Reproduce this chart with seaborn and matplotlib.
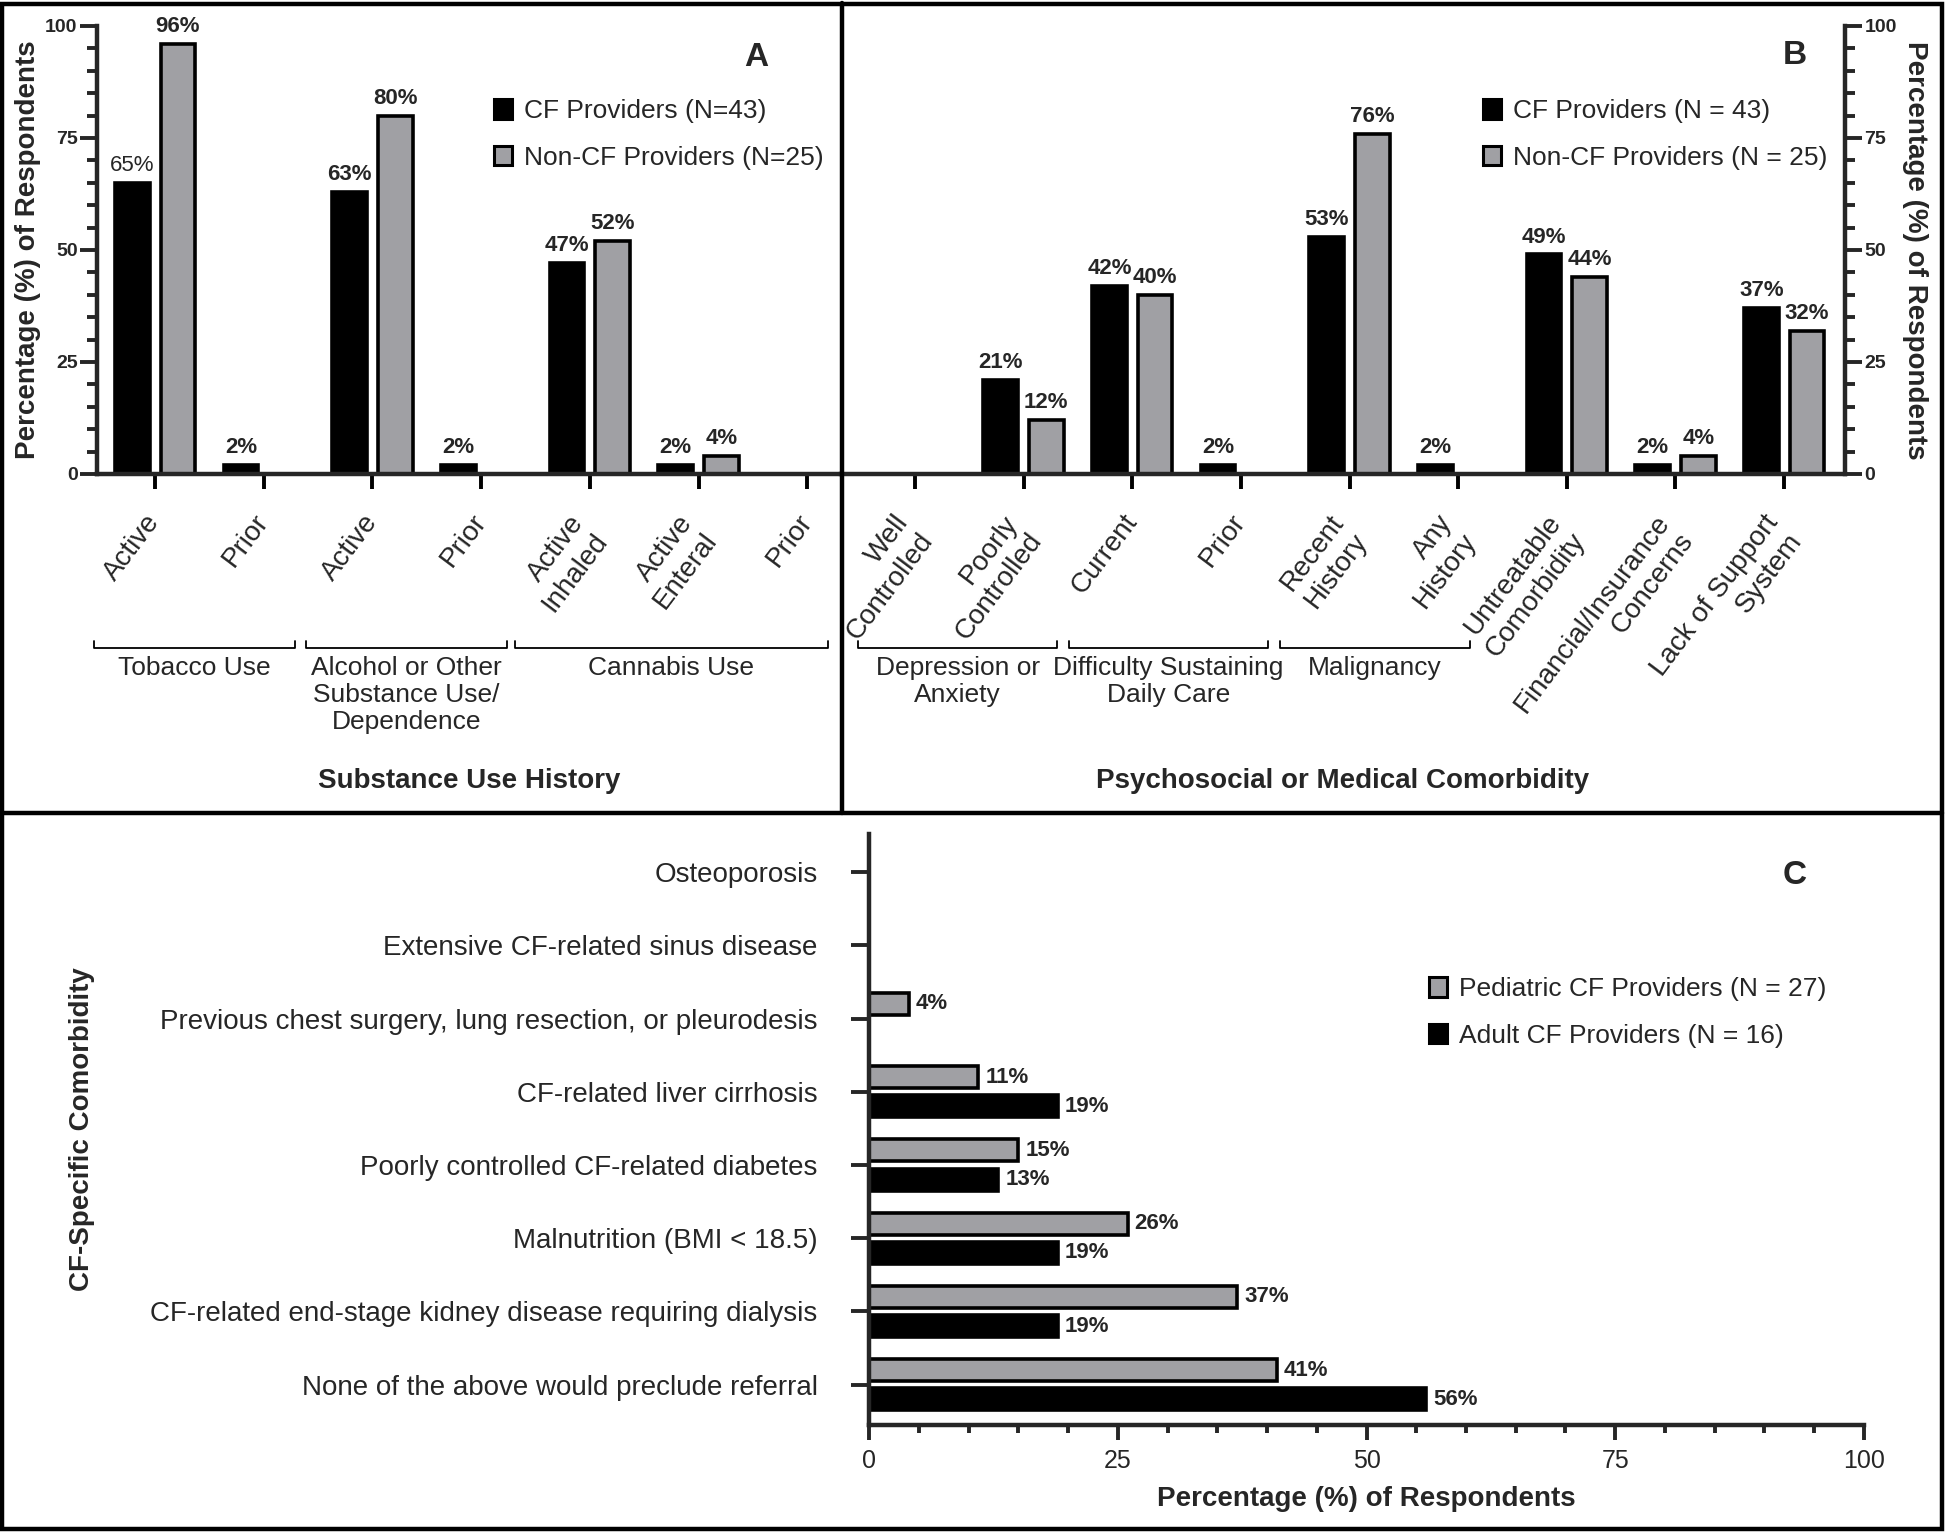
import numpy as np
import pandas as pd
import matplotlib
matplotlib.use("Agg")
import matplotlib.pyplot as plt
import matplotlib.transforms as mtransforms
from matplotlib.patches import Patch, Rectangle
from matplotlib.lines import Line2D
from matplotlib.ticker import MultipleLocator
import seaborn as sns

sns.set_style("ticks")
plt.rcParams['font.family'] = ['Liberation Sans', 'DejaVu Sans']

# ---------------- data ----------------
a_keys = ["Tobacco|Active", "Tobacco|Prior", "Alcohol|Active", "Alcohol|Prior",
          "Cannabis|Active Inhaled", "Cannabis|Active Enteral", "Cannabis|Prior"]
a_tick_labels = ["Active", "Prior", "Active", "Prior",
                 "Active\nInhaled", "Active\nEnteral", "Prior"]
a_cf = [65, 2, 63, 2, 47, 2, 0]
a_noncf = [96, 0, 80, 0, 52, 4, 0]
a_groups = ["Tobacco Use", "Alcohol or Other\nSubstance Use/\nDependence", "Cannabis Use"]
a_series = ["CF Providers (N=43)", "Non-CF Providers (N=25)"]

b_keys = ["Depression|Well Controlled", "Depression|Poorly Controlled",
          "Daily Care|Current", "Daily Care|Prior",
          "Malignancy|Recent History", "Malignancy|Any History",
          "Untreatable Comorbidity", "Financial/Insurance Concerns",
          "Lack of Support System"]
b_tick_labels = ["Well\nControlled", "Poorly\nControlled", "Current", "Prior",
                 "Recent\nHistory", "Any\nHistory", "Untreatable\nComorbidity",
                 "Financial/Insurance\nConcerns", "Lack of Support\nSystem"]
b_cf = [0, 21, 42, 2, 53, 2, 49, 2, 37]
b_noncf = [0, 12, 40, 0, 76, 0, 44, 4, 32]
b_groups = ["Depression or\nAnxiety", "Difficulty Sustaining\nDaily Care", "Malignancy"]
b_series = ["CF Providers (N = 43)", "Non-CF Providers (N = 25)"]

c_categories = ["Osteoporosis",
                "Extensive CF-related sinus disease",
                "Previous chest surgery, lung resection, or pleurodesis",
                "CF-related liver cirrhosis",
                "Poorly controlled CF-related diabetes",
                "Malnutrition (BMI < 18.5)",
                "CF-related end-stage kidney disease requiring dialysis",
                "None of the above would preclude referral"]
c_pediatric = [0, 0, 4, 11, 15, 26, 37, 41]
c_adult = [0, 0, 0, 19, 13, 19, 19, 56]
c_series = ["Pediatric CF Providers (N = 27)", "Adult CF Providers (N = 16)"]

# ---------------- style ----------------
BLACK = "#000000"
GRAY = "#a0a0a4"
W, H = 1946, 1532
SPINE_LW = 3.2
TICK_W = 2.8


def rect(l, r, t, b):
    return [l / W, 1 - b / H, (r - l) / W, (b - t) / H]


fig = plt.figure(figsize=(W / 100, H / 100), dpi=100)
axA = fig.add_axes(rect(97, 841, 26, 474))
axB = fig.add_axes(rect(841, 1845, 26, 474))
axC = fig.add_axes(rect(869, 1864, 834, 1425))


def long_df(keys, s1, s2, names):
    return pd.DataFrame({
        "item": list(keys) * 2,
        "series": [names[0]] * len(keys) + [names[1]] * len(keys),
        "pct": list(s1) + list(s2),
    })


def vertical_panel(ax, keys, ticklabels, s1, s2, names, xlim):
    df = long_df(keys, s1, s2, names)
    sns.barplot(data=df, x="item", y="pct", hue="series", order=keys,
                hue_order=names, palette=[BLACK, GRAY], saturation=1,
                width=0.84, gap=0.24, edgecolor="black", linewidth=2.6,
                errorbar=None, legend=False, ax=ax)
    ax.set_xlim(*xlim)
    ax.set_ylim(0, 100)
    ax.set_xticks(range(len(keys)))
    ax.set_xticklabels(ticklabels, rotation=53, ha="right", va="center",
                       rotation_mode="anchor", fontsize=20)
    ax.tick_params(axis="x", length=11, width=TICK_W, pad=20, color="black")
    shift = mtransforms.ScaledTranslation(1 / 100, -10 / 100, fig.dpi_scale_trans)
    for lab in ax.get_xticklabels():
        if "\n" in lab.get_text():
            lab.set_transform(lab.get_transform() + shift)
    ax.yaxis.set_major_locator(MultipleLocator(25))
    ax.yaxis.set_minor_locator(MultipleLocator(5))
    ax.tick_params(axis="y", which="major", length=12, width=TICK_W,
                   labelsize=14, pad=2)
    ax.tick_params(axis="y", which="minor", length=7, width=TICK_W)
    for lab in ax.get_yticklabels():
        lab.set_fontweight("bold")
    ax.set_ylabel("")
    texts = []
    for cont, vals in zip(ax.containers, [s1, s2]):
        labels = [f"{v}%" if v > 0 else "" for v in vals]
        texts.append(ax.bar_label(cont, labels=labels, padding=5,
                                  fontsize=16, fontweight="bold"))
    for sp in ax.spines.values():
        sp.set_linewidth(SPINE_LW)
    ax.spines["top"].set_visible(False)
    ax.patch.set_alpha(0)
    return texts


def legend(ax, names, colors, x_px, y_px):
    handles = [Patch(facecolor=c, edgecolor="black", linewidth=2.2) for c in colors]
    ax.legend(handles, names, loc="upper left",
              bbox_to_anchor=(x_px / W, 1 - y_px / H), bbox_transform=fig.transFigure,
              frameon=False, fontsize=19, handlelength=0.68, handleheight=0.78,
              handletextpad=0.45, labelspacing=0.85, borderpad=0, borderaxespad=0)


def brackets(ax, spans, labels):
    trans = mtransforms.blended_transform_factory(ax.transData, fig.transFigure)
    yl = 1 - 648 / H
    yt = 1 - 641 / H
    for (x0, x1), lab in zip(spans, labels):
        ax.add_line(Line2D([x0, x0, x1, x1], [yt, yl, yl, yt], transform=trans,
                           color="black", lw=1.3, clip_on=False))
        ax.text((x0 + x1) / 2, 1 - 656 / H, lab, transform=trans, ha="center",
                va="top", fontsize=19, linespacing=1.15)


# ---------------- Panel A ----------------
textsA = vertical_panel(axA, a_keys, a_tick_labels, a_cf, a_noncf, a_series,
                        (-0.534, 6.31))
textsA[0][0].set_fontweight("normal")
axA.spines["right"].set_visible(False)
axA.set_ylabel("Percentage (%) of Respondents", fontsize=20, fontweight="bold",
               va="center", ha="center")
axA.yaxis.set_label_coords(-0.0927, 0.5)
axA.set_xlabel("Substance Use History", fontsize=20, fontweight="bold")
axA.xaxis.set_label_coords(0.5, (474 - 768) / 448)
legend(axA, a_series, [BLACK, GRAY], 494, 99)
brackets(axA, [(-0.557, 1.285), (1.386, 3.236), (3.31, 6.19)], a_groups)

# ---------------- Panel B ----------------
vertical_panel(axB, b_keys, b_tick_labels, b_cf, b_noncf, b_series, (-0.68, 8.56))
axB.spines["left"].set_visible(False)
axB.yaxis.tick_right()
axB.tick_params(axis="y", which="both", left=False, right=True)
for lab in axB.get_yticklabels():
    lab.set_fontweight("bold")
axB.set_ylabel("Percentage (%) of Respondents", fontsize=20, fontweight="bold",
               rotation=270, va="center", ha="center")
axB.yaxis.set_label_coords(1.0697, 0.5)
axB.set_xlabel("Psychosocial or Medical Comorbidity", fontsize=20, fontweight="bold")
axB.xaxis.set_label_coords(0.5, (474 - 768) / 448)
legend(axB, b_series, [BLACK, GRAY], 1483, 99)
brackets(axB, [(-0.52, 1.31), (1.42, 3.25), (3.36, 5.11)], b_groups)

# ---------------- Panel C ----------------
dfc = long_df(c_categories, c_pediatric, c_adult, c_series)
sns.barplot(data=dfc, y="item", x="pct", hue="series", order=c_categories,
            hue_order=c_series, palette=[GRAY, BLACK], saturation=1, orient="h",
            width=0.8, gap=0.25, edgecolor="black", linewidth=2.6,
            errorbar=None, legend=False, ax=axC)
axC.set_xlim(0, 100)
axC.set_ylim(7.55, -0.52)
axC.xaxis.set_major_locator(MultipleLocator(25))
axC.xaxis.set_minor_locator(MultipleLocator(5))
axC.tick_params(axis="x", which="major", length=11, width=TICK_W, labelsize=18, pad=6)
axC.tick_params(axis="x", which="minor", length=6, width=TICK_W)
axC.tick_params(axis="y", length=13, width=TICK_W, labelsize=20, pad=24)
axC.set_yticks(range(len(c_categories)))
axC.set_yticklabels(c_categories)
for cont, vals in zip(axC.containers, [c_pediatric, c_adult]):
    axC.bar_label(cont, labels=[f"{v}%" if v > 0 else "" for v in vals],
                  padding=5, fontsize=16, fontweight="bold")
for sp in axC.spines.values():
    sp.set_linewidth(SPINE_LW)
axC.spines["top"].set_visible(False)
axC.spines["right"].set_visible(False)
axC.set_xlabel("Percentage (%) of Respondents", fontsize=20, fontweight="bold",
               va="center")
axC.xaxis.set_label_coords(0.5, (1425 - 1499) / 591)
axC.set_ylabel("CF-Specific Comorbidity", fontsize=20, fontweight="bold",
               va="center", ha="center")
axC.yaxis.set_label_coords((82 - 869) / (1864 - 869), 0.5)
legend(axC, c_series, [GRAY, BLACK], 1429, 977)

# ---------------- panel letters & frames ----------------
for lab, x, y in [("A", 756, 57), ("B", 1795, 55), ("C", 1795, 875)]:
    fig.text(x / W, 1 - y / H, lab, fontsize=24, fontweight="bold",
             ha="center", va="center")

fig.add_artist(Rectangle((2 / W, 3 / H), (W - 6) / W, (H - 7) / H,
                         transform=fig.transFigure, fill=False, lw=3.2,
                         edgecolor="black"))
fig.add_artist(Line2D([2 / W, (W - 4) / W], [1 - 813 / H] * 2,
                      transform=fig.transFigure, color="black", lw=3.2))
fig.add_artist(Line2D([842 / W] * 2, [1 - 813 / H, 1 - 3 / H],
                      transform=fig.transFigure, color="black", lw=3.2))

fig.savefig("out.png", dpi=100)
